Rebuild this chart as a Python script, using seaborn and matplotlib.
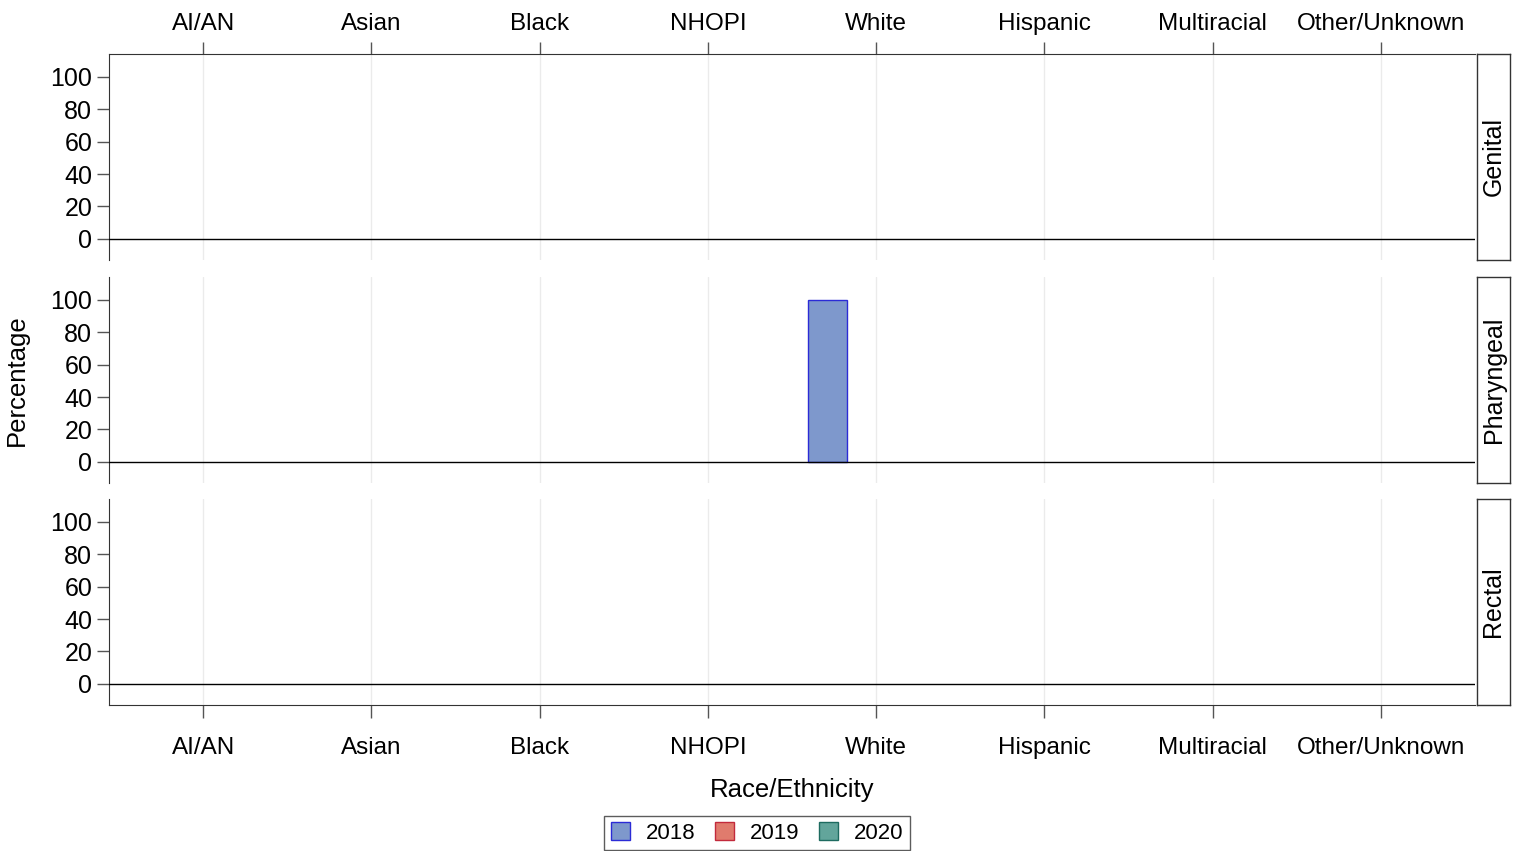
import numpy as np
import pandas as pd
import matplotlib
matplotlib.use("Agg")
import matplotlib.pyplot as plt
from matplotlib.patches import Patch
import seaborn as sns

# ------------------------------------------------------------------
# DATA
# ------------------------------------------------------------------
races = ["AI/AN", "Asian", "Black", "NHOPI", "White", "Hispanic", "Multiracial", "Other/Unknown"]
years = ["2018", "2019", "2020"]
sites = ["Genital", "Pharyngeal", "Rectal"]

# percentage per site, rows = race, cols = year (nan = no cases)
nan = np.nan
genital = [[nan, nan, nan]] * 8
pharyngeal = [[nan, nan, nan], [nan, nan, nan], [nan, nan, nan], [nan, nan, nan],
              [100, nan, nan], [nan, nan, nan], [nan, nan, nan], [nan, nan, nan]]
rectal = [[nan, nan, nan]] * 8

fill_colors = ["#7E98CC", "#E07B6D", "#62A59B"]
edge_colors = ["#2B2BD6", "#C22A3C", "#1E6B60"]

rows = []
for site, vals in zip(sites, [genital, pharyngeal, rectal]):
    for r, v in zip(races, vals):
        for y, p in zip(years, v):
            rows.append({"site": site, "race": r, "year": y, "pct": p})
df = pd.DataFrame(rows)

# ------------------------------------------------------------------
# PLOT
# ------------------------------------------------------------------
sns.set_style("white")
plt.rcParams["font.family"] = ["Liberation Sans", "DejaVu Sans"]
plt.rcParams["text.color"] = "black"
plt.rcParams["xtick.color"] = "black"
plt.rcParams["ytick.color"] = "black"
plt.rcParams["axes.labelcolor"] = "black"

fig = plt.figure(figsize=(15.19, 8.51), dpi=100)
W, H = 1519, 851
left, right = 109 / W, 1475 / W
panels = [(54, 260), (277, 483), (499, 705)]

axes = []
for i, (site, (top, bot)) in enumerate(zip(sites, panels)):
    ax = fig.add_axes([left, 1 - bot / H, right - left, (bot - top) / H])
    axes.append(ax)
    sub = df[df["site"] == site]
    sns.barplot(data=sub, x="race", y="pct", hue="year",
                order=races, hue_order=years, palette=fill_colors,
                saturation=1, width=0.864, gap=0.19, ax=ax, legend=False,
                linewidth=1, errorbar=None)
    for cont, ec in zip(ax.containers, edge_colors):
        for bar in cont:
            bar.set_edgecolor(ec)
    ax.axhline(0, color="black", lw=1, zorder=5)
    ax.set_xlim(-0.56, 7.56)
    ax.set_ylim(-13, 114)
    ax.set_yticks([0, 20, 40, 60, 80, 100])
    ax.xaxis.grid(True, color="#ebebeb", lw=1)
    ax.set_axisbelow(True)
    ax.set_xlabel("")
    ax.set_ylabel("")
    for s in ["right", "top", "bottom"]:
        ax.spines[s].set_visible(False)
    ax.spines["left"].set_color("#333333")
    ax.tick_params(axis="y", left=True, length=9, width=1, color="#555555",
                   labelsize=18, pad=3)
    if i == 0:
        ax.spines["top"].set_visible(True)
        ax.spines["top"].set_color("#333333")
        ax.tick_params(axis="x", top=True, bottom=False, labeltop=True,
                       labelbottom=False, length=9, width=1, color="#555555",
                       labelsize=17.5, pad=5)
    elif i == 2:
        ax.spines["bottom"].set_visible(True)
        ax.spines["bottom"].set_color("#333333")
        ax.tick_params(axis="x", bottom=True, length=9, width=1, color="#555555",
                       labelsize=17.5, pad=14)
        ax.set_xlabel("Race/Ethnicity", fontsize=18.5, labelpad=14)
    else:
        ax.tick_params(axis="x", bottom=False, labelbottom=False)

    # strip label on the right
    sax = fig.add_axes([1477 / W, 1 - bot / H, 33 / W, (bot - top) / H])
    sax.set_xticks([])
    sax.set_yticks([])
    for s in sax.spines.values():
        s.set_color("#333333")
        s.set_linewidth(1)
    sax.text(0.5, 0.5, site, rotation=90, ha="center", va="center",
             fontsize=18, transform=sax.transAxes)

axes[1].set_ylabel("Percentage", fontsize=18.5)
axes[1].yaxis.set_label_coords(-80 / (right - left) / W, 0.5)

handles = [Patch(facecolor=f, edgecolor=e, label=y)
           for f, e, y in zip(fill_colors, edge_colors, years)]
fig.legend(handles=handles, loc="center", bbox_to_anchor=(757 / W, 1 - 833 / H),
           ncol=3, frameon=True, fancybox=False, edgecolor="#333333",
           fontsize=16, handlelength=0.85, handleheight=0.85, handletextpad=0.7,
           columnspacing=0.9, borderpad=0.3, borderaxespad=0)

fig.savefig("out.png", dpi=100)
